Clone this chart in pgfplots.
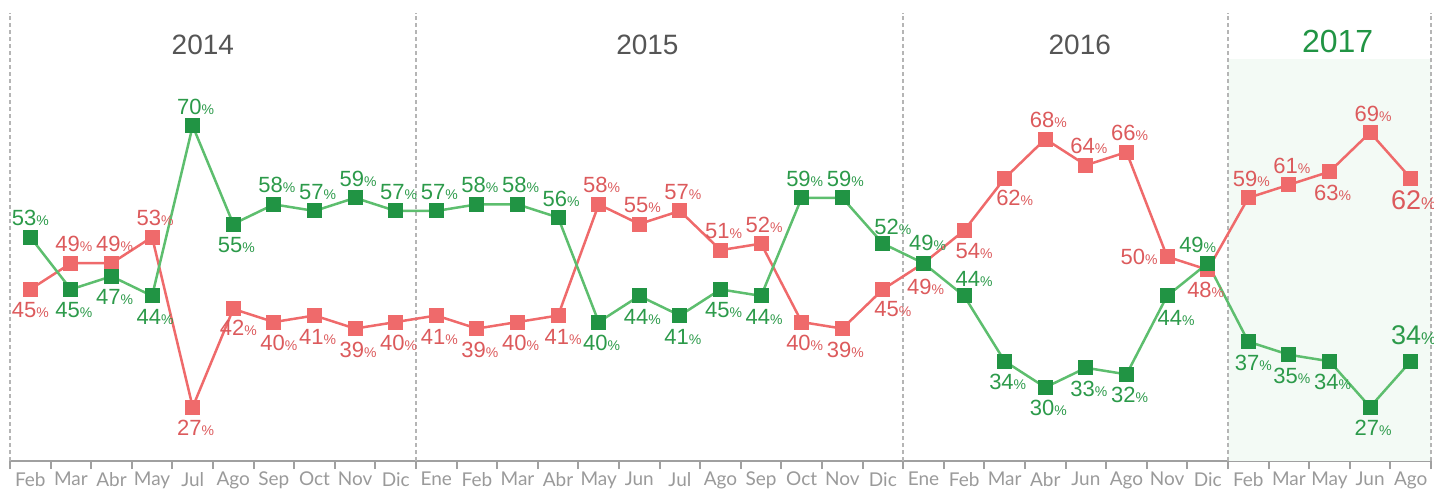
\documentclass[border=0pt]{standalone}
\usepackage{pgfplots}
\pgfplotsset{compat=1.18}
\usepackage{pgfplotstable}
\usepackage{fontspec}
\setmainfont{Liberation Sans}
\newfontfamily\tickfont{Lato}
\definecolor{gline}{HTML}{5DBE6E}
\definecolor{gmark}{HTML}{219444}
\definecolor{gtext}{HTML}{2C9A4A}
\definecolor{rline}{HTML}{EF6A6B}
\definecolor{rtext}{HTML}{DC5A5C}
\definecolor{shadec}{HTML}{F3FAF5}
\definecolor{divc}{HTML}{B5B5B5}
\definecolor{axc}{HTML}{A0A0A0}
\definecolor{tickc}{HTML}{9A9A9A}
\definecolor{yearc}{HTML}{555555}

\pgfplotstableread{
x y dx dy big
0 45 0 -21 0
1 49 3 19 0
2 49 3 19 0
3 53 3 19 0
4 27 3 -21 0
5 42 5 -19 0
6 40 5 -21 0
7 41 3 -21 0
8 39 3 -21 0
9 40 3 -21 0
10 41 3 -21 0
11 39 3 -21 0
12 40 3 -21 0
13 41 5 -21 0
14 58 3 19 0
15 55 3 19 0
16 57 3 19 0
17 51 3 19 0
18 52 3 19 0
19 40 3 -21 0
20 39 3 -21 0
21 45 10 -20 0
22 49 2 -24 0
23 54 10 -20 0
24 62 10 -20 0
25 68 3 19 0
26 64 3 19 0
27 66 3 19 0
28 50 -28 0 0
29 48 -2 -20 0
30 59 3 19 0
31 61 3 19 0
32 63 3 -21 0
33 69 3 19 0
34 62 3 -22 1
}\redtab

\pgfplotstableread{
x y dx dy big
0 53 0 19 0
1 45 3 -21 0
2 47 3 -21 0
3 44 3 -21 0
4 70 3 19 0
5 55 3 -21 0
6 58 3 19 0
7 57 3 19 0
8 59 3 19 0
9 57 3 19 0
10 57 3 19 0
11 58 3 19 0
12 58 3 19 0
13 56 3 19 0
14 40 3 -21 0
15 44 3 -21 0
16 41 3 -21 0
17 45 3 -21 0
18 44 3 -21 0
19 59 3 19 0
20 59 3 19 0
21 52 10 17 0
22 49 4 20 0
23 44 10 17 0
24 34 3 -21 0
25 30 3 -21 0
26 33 3 -21 0
27 32 3 -21 0
28 44 9 -22 0
29 49 -10 18 0
30 37 5 -21 0
31 35 3 -21 0
32 34 3 -21 0
33 27 3 -21 0
34 34 3 26 1
}\greentab

\newcommand{\pctlabel}{%
  \ifdim\bigflag pt>0.5pt
    \fontsize{27}{27}\selectfont\pgfmathprintnumber{\pgfplotspointmeta}\fontsize{17}{17}\selectfont\%%
  \else
    \fontsize{22}{22}\selectfont\pgfmathprintnumber{\pgfplotspointmeta}\fontsize{14}{14}\selectfont\%%
  \fi}

\begin{document}
\begin{tikzpicture}
\begin{axis}[
  scale only axis, width=1421pt, height=461pt,
  xmin=-0.5, xmax=34.5, ymin=18.74, ymax=89.27,
  axis x line=bottom, axis y line=none,
  x axis line style={-, draw=axc, line width=2.5pt},
  xtick={-0.5,0.5,...,34.5},
  x tick label as interval,
  xticklabels={Feb,Mar,Abr,May,Jul,Ago,Sep,Oct,Nov,Dic,Ene,Feb,Mar,Abr,May,Jun,Jul,Ago,Sep,Oct,Nov,Dic,Ene,Feb,Mar,Abr,Jun,Ago,Nov,Dic,Feb,Mar,May,Jun,Ago},
  tick align=outside, major tick length=8pt,
  xtick style={draw=axc, line width=2pt},
  xticklabel style={font=\tickfont\fontsize{19}{19}\selectfont, text=tickc, inner sep=0pt, yshift=-3pt},
  ytick=\empty,
  clip=false,
  /pgf/number format/assume math mode=true,
  visualization depends on={\thisrow{dx} \as \dx},
  visualization depends on={\thisrow{dy} \as \dy},
  visualization depends on={\thisrow{big} \as \bigflag},
  nodes near coords={\pctlabel},
  every node near coord/.append style={anchor=center, xshift=\dx pt, yshift=\dy pt, inner sep=0pt},
]
\fill[shadec] (axis cs:29.5,18.74) rectangle (axis cs:34.5,80.25);
\pgfplotsinvokeforeach{-0.5,9.5,21.5,29.5,34.5}{
  \draw[divc, dash pattern=on 4pt off 3pt, line width=1.5pt] (axis cs:#1,18.74) -- (axis cs:#1,87.3);
}
\node[text=yearc, font=\fontsize{28}{28}\selectfont] at (axis cs:4.25,82.4) {2014};
\node[text=yearc, font=\fontsize{28}{28}\selectfont] at (axis cs:15.2,82.4) {2015};
\node[text=yearc, font=\fontsize{28}{28}\selectfont] at (axis cs:25.85,82.4) {2016};
\node[text=gmark, font=\fontsize{32}{32}\selectfont] at (axis cs:32.2,82.85) {2017};

\addplot[rline, line width=2.5pt, mark=square*, mark size=7pt,
  mark options={fill=rline, draw=rline, line width=1pt},
  every node near coord/.append style={text=rtext}]
  table[x=x,y=y] {\redtab};
\addplot[gline, line width=2.5pt, mark=square*, mark size=7pt,
  mark options={fill=gmark, draw=gmark, line width=1pt},
  every node near coord/.append style={text=gtext}]
  table[x=x,y=y] {\greentab};
\end{axis}
\pgfresetboundingbox
\path ([xshift=-10pt,yshift=-28pt]current axis.south west) rectangle ([xshift=3pt]current axis.north east);
\end{tikzpicture}
\end{document}
